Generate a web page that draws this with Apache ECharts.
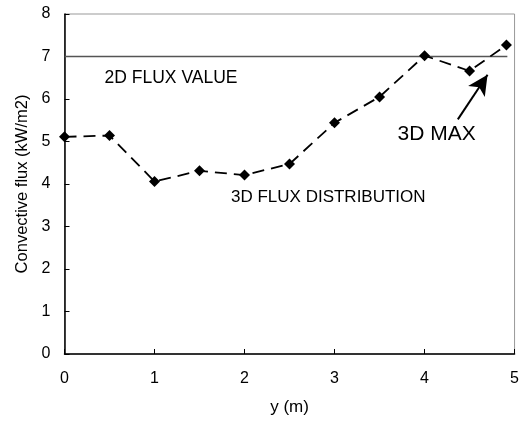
<!DOCTYPE html>
<html>
<head>
<meta charset="utf-8">
<script src="https://cdn.jsdelivr.net/npm/echarts@6/dist/echarts.min.js"></script>
<style>html,body{margin:0;padding:0;background:#fff}#c{width:522px;height:421px}</style>
</head>
<body>
<div id="c"></div>
<script>
const xPos = [0, 0.5, 1, 1.5, 2, 2.5, 3, 3.5, 4, 4.5, 4.91];
const flux3D = [5.11, 5.14, 4.06, 4.31, 4.21, 4.47, 5.44, 6.05, 7.02, 6.66, 7.27];
const flux2DX = [0, 4.92];
const flux2D = [7, 7];
const xTicks = [0, 1, 2, 3, 4, 5];
const yTicks = [0, 1, 2, 3, 4, 5, 6, 7, 8];
const arrowFrom = [4.37, 5.52];
const arrowTo = [4.70, 6.57];

const FONT = '"Liberation Sans", Arial, sans-serif';
const chart = echarts.init(document.getElementById('c'));
const option = {
  animation: false,
  grid: { left: 64.5, right: 2, top: 14, bottom: 66, show: true, borderColor: '#999', borderWidth: 1 },
  xAxis: {
    type: 'value', min: xTicks[0], max: xTicks[xTicks.length-1], interval: 1,
    name: 'y (m)', nameLocation: 'middle', nameGap: 45,
    nameTextStyle: { fontFamily: FONT, fontSize: 17, color: '#000' },
    axisLine: { lineStyle: { color: '#000', width: 1.5 } },
    axisTick: { inside: true, length: 5, lineStyle: { color: '#000' } },
    axisLabel: { fontFamily: FONT, fontSize: 16, color: '#000', margin: 17 },
    splitLine: { show: false }
  },
  yAxis: {
    type: 'value', min: yTicks[0], max: yTicks[yTicks.length-1], interval: 1,
    name: 'Convective flux (kW/m2)', nameLocation: 'middle', nameGap: 34,
    nameTextStyle: { fontFamily: FONT, fontSize: 16.5, color: '#000' },
    axisLine: { show: true, lineStyle: { color: '#000', width: 1.5 } },
    axisTick: { show: true, inside: true, length: 5, lineStyle: { color: '#000' } },
    axisLabel: { fontFamily: FONT, fontSize: 16, color: '#000', margin: 14 },
    splitLine: { show: false }
  },
  series: [
    {
      type: 'line',
      data: flux2DX.map((x, i) => [x, flux2D[i]]),
      showSymbol: false, symbol: 'none',
      lineStyle: { color: '#555', width: 1.5 },
      z: 1
    },
    {
      type: 'line',
      data: xPos.map((x, i) => [x, flux3D[i]]),
      symbol: 'diamond', symbolSize: 11,
      itemStyle: { color: '#000' },
      lineStyle: { color: '#000', width: 1.8, type: [12, 7] },
      z: 3,
      markLine: {
        silent: true,
        symbol: ['none', 'arrow'], symbolSize: [15, 20],
        label: { show: false },
        lineStyle: { color: '#000', width: 2, type: 'solid' },
        data: [[{ coord: arrowFrom }, { coord: arrowTo }]]
      }
    }
  ]
};
chart.setOption(option);

const notes = [
  { text: '2D FLUX VALUE', at: [0.445, 6.5], size: 17.5 },
  { text: '3D FLUX DISTRIBUTION', at: [1.85, 3.69], size: 17 },
  { text: '3D MAX', at: [3.70, 5.16], size: 21 }
];
chart.setOption({
  graphic: notes.map(n => {
    const p = chart.convertToPixel({ gridIndex: 0 }, n.at);
    return {
      type: 'text', x: p[0], y: p[1], z: 10,
      style: { text: n.text, fontFamily: FONT, fontSize: n.size, fill: '#000', textVerticalAlign: 'middle', verticalAlign: 'middle' }
    };
  })
});
</script>
</body>
</html>
